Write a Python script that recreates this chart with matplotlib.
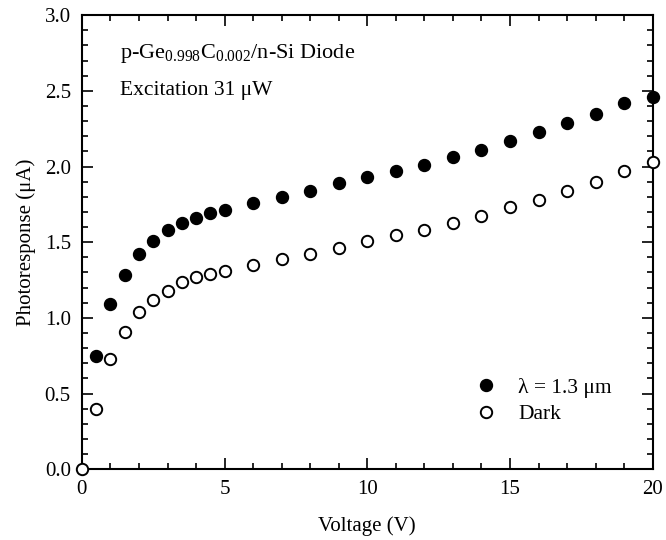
import matplotlib
matplotlib.use('Agg')
from matplotlib import pyplot as plt
from matplotlib.ticker import MultipleLocator

plt.rcParams['font.family'] = ['Liberation Serif', 'DejaVu Serif']
plt.rcParams['mathtext.fontset'] = 'custom'
plt.rcParams['mathtext.rm'] = 'Liberation Serif'
plt.rcParams['mathtext.it'] = 'Liberation Serif:italic'

# Data
volts_light = [0.5, 1, 1.5, 2, 2.5, 3, 3.5, 4, 4.5, 5, 6, 7, 8, 9, 10,
               11, 12, 13, 14, 15, 16, 17, 18, 19, 20]
light = [0.75, 1.09, 1.28, 1.42, 1.51, 1.58, 1.63, 1.66, 1.69, 1.71, 1.76,
         1.80, 1.84, 1.89, 1.93, 1.97, 2.01, 2.06, 2.11, 2.17, 2.23, 2.29,
         2.35, 2.42, 2.46]
volts_dark = [0, 0.5, 1, 1.5, 2, 2.5, 3, 3.5, 4, 4.5, 5, 6, 7, 8, 9, 10,
              11, 12, 13, 14, 15, 16, 17, 18, 19, 20]
dark = [0.0, 0.40, 0.73, 0.91, 1.04, 1.12, 1.18, 1.24, 1.27, 1.29, 1.31,
        1.35, 1.39, 1.42, 1.46, 1.51, 1.55, 1.58, 1.63, 1.67, 1.73, 1.78,
        1.84, 1.90, 1.97, 2.03]

fig = plt.figure(figsize=(6.66, 5.4), dpi=100)
ax = fig.add_axes([0.123, 0.131, 0.857, 0.841])

ax.plot(volts_light, light, 'o', ms=8.6, color='black', clip_on=False,
        label='λ = 1.3 μm', zorder=3)
ax.plot(volts_dark, dark, 'o', ms=8.2, mfc='white', mec='black', mew=1.4,
        clip_on=False, label='Dark', zorder=3)

ax.set_xlim(0, 20)
ax.set_ylim(0, 3.0)
ax.xaxis.set_major_locator(MultipleLocator(5))
ax.xaxis.set_minor_locator(MultipleLocator(1))
ax.yaxis.set_major_locator(MultipleLocator(0.5))
ax.yaxis.set_minor_locator(MultipleLocator(0.1))
ax.yaxis.set_major_formatter(plt.FormatStrFormatter('%.1f'))
ax.tick_params(which='both', direction='in', top=True, right=True,
               labelsize=15, width=1.2)
ax.tick_params(which='major', length=8, pad=8)
ax.tick_params(which='minor', length=4)
for s in ax.spines.values():
    s.set_linewidth(1.5)

ax.set_xlabel('Voltage (V)', fontsize=15, labelpad=12)
ax.set_ylabel('Photoresponse (μA)', fontsize=15, labelpad=6)

ax.text(0.066, 0.905, r'p-Ge$_{0.998}$C$_{0.002}$/n-Si Diode',
        transform=ax.transAxes, fontsize=16)
ax.text(0.066, 0.825, 'Excitation 31 μW', transform=ax.transAxes,
        fontsize=15.5)

ax.legend(loc='lower left', bbox_to_anchor=(0.67, 0.08), frameon=False,
          fontsize=15.5, handletextpad=0.9, labelspacing=0.3, borderaxespad=0,
          handlelength=1.2)

fig.savefig('out.png', dpi=100)
